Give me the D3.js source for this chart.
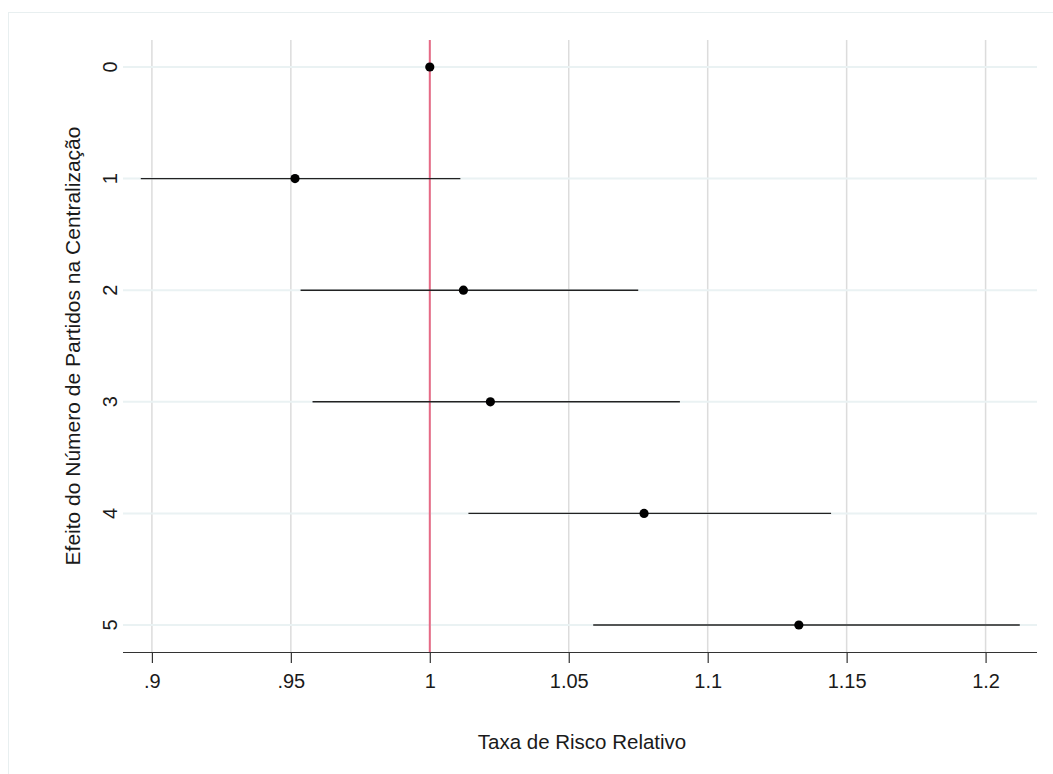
<!DOCTYPE html>
<html>
<head>
<meta charset="utf-8">
<script src="https://cdn.jsdelivr.net/npm/d3@7"></script>
<style>
html,body{margin:0;padding:0;background:#fff;}
svg{display:block;font-family:"Liberation Sans",Arial,sans-serif;}
</style>
</head>
<body>
<div id="chart"></div>
<script>
const categories = ["0","1","2","3","4","5"];
const estimates = [1.000, 0.9515, 1.0121, 1.0218, 1.0771, 1.1328];
const ciLower   = [1.000, 0.896, 0.9535, 0.9578, 1.0139, 1.0588];
const ciUpper   = [1.000, 1.011, 1.075, 1.090, 1.1444, 1.2123];
const xTicks = [0.9, 0.95, 1, 1.05, 1.1, 1.15, 1.2];
const xTickLabels = [".9", ".95", "1", "1.05", "1.1", "1.15", "1.2"];
const refValue = 1;
const xTitle = "Taxa de Risco Relativo";
const yTitle = "Efeito do Número de Partidos na Centralização";

const W = 1053, H = 774;
const m = {left:123, right:1037, top:40, bottom:652};

const svg = d3.select("#chart").append("svg").attr("width", W).attr("height", H);
svg.append("rect").attr("x",0).attr("y",0).attr("width",W).attr("height",H).attr("fill","#fff");
svg.append("rect").attr("x",8.5).attr("y",12.5).attr("width",W+20).attr("height",H+20)
  .attr("fill","none").attr("stroke","#e8eff0").attr("stroke-width",1);

const x = d3.scaleLinear().domain([0.8896, 1.2185]).range([m.left, m.right]);
const y = d3.scaleLinear().domain([-0.242, 5.242]).range([m.top, m.bottom]);

// vertical gridlines
svg.append("g").selectAll("line").data(xTicks).join("line")
  .attr("x1", d=>x(d)).attr("x2", d=>x(d)).attr("y1", m.top).attr("y2", m.bottom)
  .attr("stroke","#dcdcdc").attr("stroke-width",1.5);

// horizontal gridlines
svg.append("g").selectAll("line").data(categories).join("line")
  .attr("x1", m.left).attr("x2", m.right).attr("y1", (d,i)=>y(i)).attr("y2",(d,i)=>y(i))
  .attr("stroke","#eaf2f3").attr("stroke-width",2);

// reference line
svg.append("line").attr("x1", x(refValue)).attr("x2", x(refValue))
  .attr("y1", m.top).attr("y2", m.bottom).attr("stroke","#e66a86").attr("stroke-width",2);

// x axis
const xAxis = d3.axisBottom(x).tickValues(xTicks).tickFormat((d,i)=>xTickLabels[i]).tickSizeOuter(0).tickSize(11).tickPadding(11);
const gx = svg.append("g").attr("transform", `translate(0,${m.bottom})`).call(xAxis);
gx.select(".domain").attr("stroke","#333").attr("stroke-width",1.2).attr("d", `M${m.left},0.5H${m.right}`);
gx.selectAll(".tick line").attr("stroke","#333").attr("stroke-width",1.2);
gx.selectAll(".tick text").attr("fill","#1a1a1a").attr("font-size",20).attr("font-family","Liberation Sans, Arial, sans-serif");

// y tick labels (rotated)
svg.append("g").selectAll("text").data(categories).join("text")
  .attr("transform", (d,i)=>`translate(117,${y(i)}) rotate(-90)`)
  .attr("text-anchor","middle").attr("fill","#1a1a1a").attr("font-size",20)
  .text(d=>d);

// CI lines
svg.append("g").selectAll("line").data(categories).join("line")
  .attr("x1", (d,i)=>x(ciLower[i])).attr("x2",(d,i)=>x(ciUpper[i]))
  .attr("y1",(d,i)=>y(i)).attr("y2",(d,i)=>y(i))
  .attr("stroke","#222").attr("stroke-width",1.4);

// points
svg.append("g").selectAll("circle").data(categories).join("circle")
  .attr("cx",(d,i)=>x(estimates[i])).attr("cy",(d,i)=>y(i)).attr("r",4.6)
  .attr("fill","#000");

// titles
svg.append("text").attr("x", 582).attr("y", 749)
  .attr("text-anchor","middle").attr("fill","#1a1a1a").attr("font-size",20.5).text(xTitle);
svg.append("text").attr("transform", `translate(80,346) rotate(-90)`)
  .attr("text-anchor","middle").attr("fill","#1a1a1a").attr("font-size",21).text(yTitle);
</script>
</body>
</html>
